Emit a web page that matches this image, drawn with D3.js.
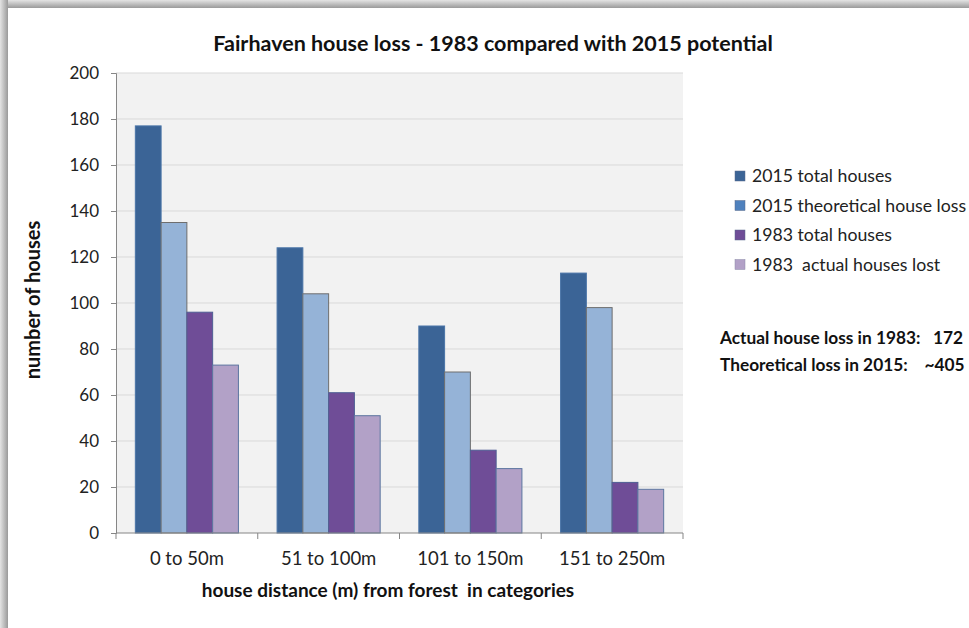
<!DOCTYPE html>
<html><head><meta charset="utf-8">
<script src="https://cdn.jsdelivr.net/npm/d3@7"></script>
<style>body{margin:0;background:#fff;}svg{display:block;font-family:Lato,"Open Sans",sans-serif;}</style>
</head><body>
<svg id="chart" width="969" height="628"></svg>
<script>
const categories = ["0 to 50m", "51 to 100m", "101 to 150m", "151 to 250m"];
const seriesNames = ["2015 total houses", "2015 theoretical house loss", "1983 total houses", "1983  actual houses lost"];
const total2015 = [177, 124, 90, 113];
const loss2015 = [135, 104, 70, 98];
const total1983 = [96, 61, 36, 22];
const lost1983 = [73, 51, 28, 19];
const yTicks = [0, 20, 40, 60, 80, 100, 120, 140, 160, 180, 200];
const fills = ["#3B6496", "#95B3D7", "#6F4D97", "#B2A1C7"];
const strokes = ["#4A74A8", "#6E6E6E", "#4F5F94", "#5C76A0"];
const swatch = ["#3B6496", "#4F81BD", "#6F4D97", "#B2A1C7"];
const series = [total2015, loss2015, total1983, lost1983];

const svg = d3.select("#chart");
const defs = svg.append("defs");
const gt = defs.append("linearGradient").attr("id","gt").attr("x1",0).attr("y1",0).attr("x2",0).attr("y2",1);
gt.append("stop").attr("offset","0%").attr("stop-color","#e4e4e4");
gt.append("stop").attr("offset","100%").attr("stop-color","#9a9a9a");
const gl = defs.append("linearGradient").attr("id","gl").attr("x1",0).attr("y1",0).attr("x2",1).attr("y2",0);
gl.append("stop").attr("offset","0%").attr("stop-color","#e4e4e4");
gl.append("stop").attr("offset","100%").attr("stop-color","#9a9a9a");
svg.append("rect").attr("x",0).attr("y",0).attr("width",969).attr("height",8).attr("fill","url(#gt)");
svg.append("rect").attr("x",0).attr("y",0).attr("width",8).attr("height",628).attr("fill","url(#gl)");

const m = {left:116, right:683, top:73, bottom:533};
const x = d3.scaleBand().domain(categories).range([m.left, m.right]);
// gap width 150%: bandwidth = 4 bars + 1.5 bar
const bw = x.bandwidth()/5.5;
const y = d3.scaleLinear().domain([0,200]).range([m.bottom, m.top]);

svg.append("rect").attr("x",m.left).attr("y",m.top).attr("width",m.right-m.left).attr("height",m.bottom-m.top).attr("fill","#F2F2F2");

svg.append("g").selectAll("line").data(yTicks.filter(d=>d>0)).join("line")
  .attr("x1",m.left).attr("x2",m.right).attr("y1",d=>y(d)).attr("y2",d=>y(d))
  .attr("stroke","#D9D9D9").attr("stroke-width",1);

categories.forEach((c,ci)=>{
  series.forEach((s,si)=>{
    svg.append("rect")
      .attr("x", x(c) + 0.75*bw + si*bw)
      .attr("y", y(s[ci]))
      .attr("width", bw)
      .attr("height", y(0)-y(s[ci]))
      .attr("fill", fills[si])
      .attr("stroke", strokes[si]).attr("stroke-width",1);
  });
});

const ya = svg.append("g").attr("transform",`translate(${m.left},0)`)
  .call(d3.axisLeft(y).tickValues(yTicks).tickSize(5).tickPadding(12));
ya.select(".domain").attr("stroke","#868686");
ya.selectAll(".tick line").attr("stroke","#868686");
ya.selectAll("text").attr("font-size",17).attr("fill","#222").attr("font-family","Lato");

const xa = svg.append("g").attr("transform",`translate(0,${m.bottom})`)
  .call(d3.axisBottom(x).tickSize(0).tickPadding(19));
xa.select(".domain").attr("stroke","#868686").attr("d",`M${m.left},0H${m.right}`);
xa.selectAll("text").attr("font-size",18.5).attr("fill","#222").attr("font-family","Lato");
svg.append("g").selectAll("line").data(d3.range(categories.length+1)).join("line")
  .attr("x1",i=>m.left+i*x.step()).attr("x2",i=>m.left+i*x.step())
  .attr("y1",m.bottom).attr("y2",m.bottom+6).attr("stroke","#868686");

svg.append("text").attr("x",493).attr("y",51).attr("text-anchor","middle")
  .attr("font-size",21.5).attr("font-weight","bold").attr("fill","#111")
  .text("Fairhaven house loss - 1983 compared with 2015 potential");
svg.append("text").attr("x",388).attr("y",597).attr("text-anchor","middle")
  .attr("font-size",19).attr("font-weight","bold").attr("fill","#111")
  .style("white-space","pre")
  .text("house distance (m) from forest  in categories");
svg.append("text").attr("transform","translate(40,300) rotate(-90)").attr("text-anchor","middle")
  .attr("font-size",20).attr("font-weight","bold").attr("fill","#111")
  .text("number of houses");

const lg = svg.append("g");
seriesNames.forEach((n,i)=>{
  const cy = 176 + i*29.5;
  lg.append("rect").attr("x",735).attr("y",cy-5).attr("width",10).attr("height",10)
    .attr("fill",swatch[i]).attr("stroke", i===3?"#8a8aa8":"#5a6a8a").attr("stroke-width",0.5);
  lg.append("text").attr("x",752).attr("y",cy+6).attr("font-size",17.7).attr("fill","#222")
    .style("white-space","pre").text(n);
});

svg.append("text").attr("x",720).attr("y",344).attr("font-size",17.3).attr("font-weight","bold").attr("fill","#111")
  .style("white-space","pre").text("Actual house loss in 1983:   172");
svg.append("text").attr("x",720).attr("y",371).attr("font-size",17.3).attr("font-weight","bold").attr("fill","#111")
  .style("white-space","pre").text("Theoretical loss in 2015:    ~405");
</script>
</body></html>
